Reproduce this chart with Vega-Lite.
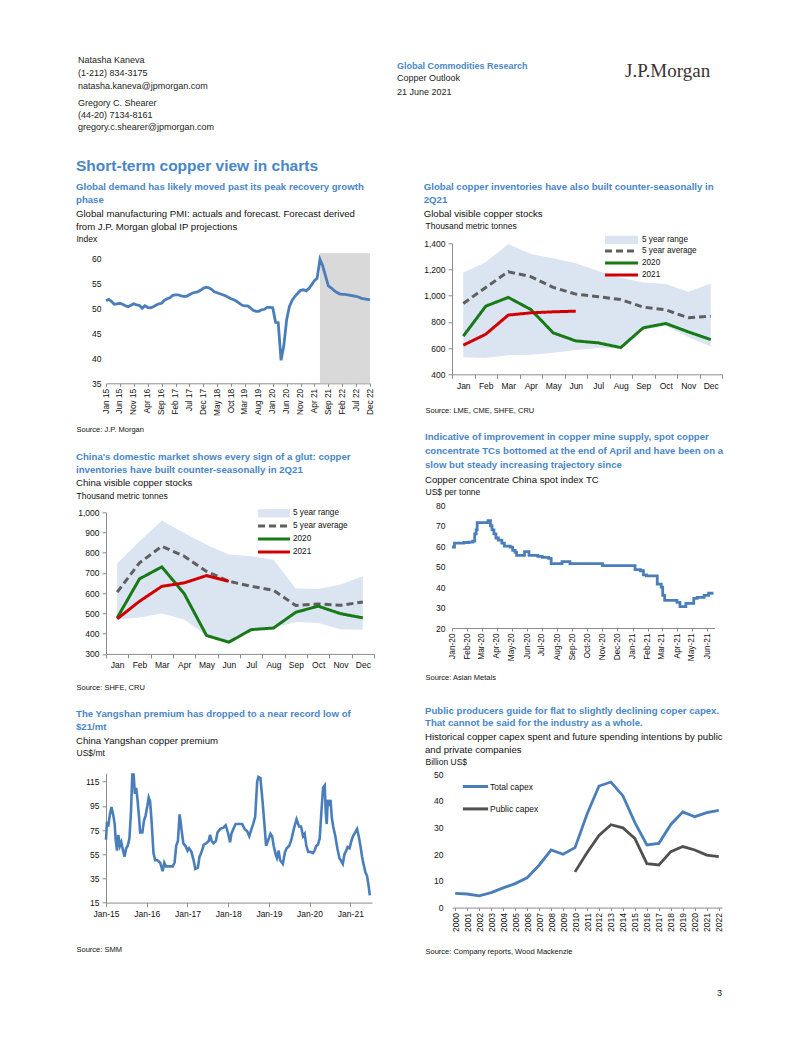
{
"$schema": "https://vega.github.io/schema/vega-lite/v6.json",
"padding": {"left": 76, "top": 55, "right": 0, "bottom": 0},
"resolve": {"scale": {"stroke": "independent", "strokeDash": "independent", "fill": "independent"}, "legend": {"stroke": "independent", "strokeDash": "independent", "fill": "independent"}},
"columns": 1,
"align": "none",
"spacing": 25.3,
"datasets": {
"pmi": [
{"d":"2015-01-01","v":51.5},{"d":"2015-02-01","v":51.8},{"d":"2015-03-01","v":51.4},{"d":"2015-04-01","v":50.8},{"d":"2015-05-01","v":50.9},{"d":"2015-06-01","v":51.0},{"d":"2015-07-01","v":50.8},{"d":"2015-08-01","v":50.5},{"d":"2015-09-01","v":50.3},{"d":"2015-10-01","v":50.6},{"d":"2015-11-01","v":50.9},{"d":"2015-12-01","v":50.7},
{"d":"2016-01-01","v":50.6},{"d":"2016-02-01","v":50.0},{"d":"2016-03-01","v":50.5},{"d":"2016-04-01","v":50.2},{"d":"2016-05-01","v":50.1},{"d":"2016-06-01","v":50.3},{"d":"2016-07-01","v":50.6},{"d":"2016-08-01","v":50.9},{"d":"2016-09-01","v":51.0},{"d":"2016-10-01","v":51.6},{"d":"2016-11-01","v":51.9},{"d":"2016-12-01","v":52.1},
{"d":"2017-01-01","v":52.6},{"d":"2017-02-01","v":52.7},{"d":"2017-03-01","v":52.7},{"d":"2017-04-01","v":52.5},{"d":"2017-05-01","v":52.4},{"d":"2017-06-01","v":52.4},{"d":"2017-07-01","v":52.7},{"d":"2017-08-01","v":53.0},{"d":"2017-09-01","v":53.2},{"d":"2017-10-01","v":53.3},{"d":"2017-11-01","v":53.6},{"d":"2017-12-01","v":54.0},
{"d":"2018-01-01","v":54.2},{"d":"2018-02-01","v":54.1},{"d":"2018-03-01","v":53.8},{"d":"2018-04-01","v":53.3},{"d":"2018-05-01","v":53.1},{"d":"2018-06-01","v":52.9},{"d":"2018-07-01","v":52.7},{"d":"2018-08-01","v":52.5},{"d":"2018-09-01","v":52.2},{"d":"2018-10-01","v":51.9},{"d":"2018-11-01","v":51.7},{"d":"2018-12-01","v":51.4},
{"d":"2019-01-01","v":51.0},{"d":"2019-02-01","v":50.6},{"d":"2019-03-01","v":50.5},{"d":"2019-04-01","v":50.5},{"d":"2019-05-01","v":50.1},{"d":"2019-06-01","v":49.6},{"d":"2019-07-01","v":49.4},{"d":"2019-08-01","v":49.4},{"d":"2019-09-01","v":49.7},{"d":"2019-10-01","v":49.8},{"d":"2019-11-01","v":50.2},{"d":"2019-12-01","v":50.2},
{"d":"2020-01-01","v":50.1},{"d":"2020-02-01","v":47.2},{"d":"2020-03-01","v":47.1},{"d":"2020-04-01","v":39.6},{"d":"2020-05-01","v":42.5},{"d":"2020-06-01","v":47.7},{"d":"2020-07-01","v":50.3},{"d":"2020-08-01","v":51.6},{"d":"2020-09-01","v":52.4},{"d":"2020-10-01","v":53.0},{"d":"2020-11-01","v":53.6},{"d":"2020-12-01","v":53.7},
{"d":"2021-01-01","v":53.5},{"d":"2021-02-01","v":54.0},{"d":"2021-03-01","v":54.7},{"d":"2021-04-01","v":55.5},{"d":"2021-05-01","v":56.0},{"d":"2021-06-01","v":59.8},{"d":"2021-07-01","v":58.5},{"d":"2021-08-01","v":56.5},{"d":"2021-09-01","v":54.5},{"d":"2021-10-01","v":54.1},{"d":"2021-11-01","v":53.6},{"d":"2021-12-01","v":53.2},
{"d":"2022-01-01","v":52.9},{"d":"2022-02-01","v":52.8},{"d":"2022-03-01","v":52.8},{"d":"2022-04-01","v":52.7},{"d":"2022-05-01","v":52.6},{"d":"2022-06-01","v":52.5},{"d":"2022-07-01","v":52.4},{"d":"2022-08-01","v":52.2},{"d":"2022-09-01","v":52.0},{"d":"2022-10-01","v":51.9},{"d":"2022-11-01","v":51.8},{"d":"2022-12-01","v":51.7}
],
"pmiShade": [{"s":"2021-06-01","e":"2022-12-01","lo":35,"hi":61}],
"gRange": [
{"m":"Jan","s":"5 year range","lo":530,"hi":1175},{"m":"Feb","s":"5 year range","lo":525,"hi":1255},{"m":"Mar","s":"5 year range","lo":545,"hi":1395},{"m":"Apr","s":"5 year range","lo":550,"hi":1318},{"m":"May","s":"5 year range","lo":565,"hi":1285},{"m":"Jun","s":"5 year range","lo":585,"hi":1247},{"m":"Jul","s":"5 year range","lo":600,"hi":1188},{"m":"Aug","s":"5 year range","lo":600,"hi":1137},{"m":"Sep","s":"5 year range","lo":740,"hi":1100},{"m":"Oct","s":"5 year range","lo":770,"hi":1090},{"m":"Nov","s":"5 year range","lo":685,"hi":1030},{"m":"Dec","s":"5 year range","lo":612,"hi":1094}
],
"gLines": [
{"m":"Jan","s":"5 year average","v":940},{"m":"Feb","s":"5 year average","v":1063},{"m":"Mar","s":"5 year average","v":1183},{"m":"Apr","s":"5 year average","v":1145},{"m":"May","s":"5 year average","v":1063},{"m":"Jun","s":"5 year average","v":1012},{"m":"Jul","s":"5 year average","v":992},{"m":"Aug","s":"5 year average","v":971},{"m":"Sep","s":"5 year average","v":913},{"m":"Oct","s":"5 year average","v":892},{"m":"Nov","s":"5 year average","v":831},{"m":"Dec","s":"5 year average","v":844},
{"m":"Jan","s":"2020","v":691},{"m":"Feb","s":"2020","v":920},{"m":"Mar","s":"2020","v":987},{"m":"Apr","s":"2020","v":895},{"m":"May","s":"2020","v":716},{"m":"Jun","s":"2020","v":655},{"m":"Jul","s":"2020","v":640},{"m":"Aug","s":"2020","v":604},{"m":"Sep","s":"2020","v":755},{"m":"Oct","s":"2020","v":788},{"m":"Nov","s":"2020","v":724},{"m":"Dec","s":"2020","v":665},
{"m":"Jan","s":"2021","v":622},{"m":"Feb","s":"2021","v":706},{"m":"Mar","s":"2021","v":852},{"m":"Apr","s":"2021","v":869},{"m":"May","s":"2021","v":877},{"m":"Jun","s":"2021","v":882}
],
"cRange": [
{"m":"Jan","s":"5 year range","lo":470,"hi":747},{"m":"Feb","s":"5 year range","lo":480,"hi":857},{"m":"Mar","s":"5 year range","lo":500,"hi":960},{"m":"Apr","s":"5 year range","lo":470,"hi":898},{"m":"May","s":"5 year range","lo":390,"hi":840},{"m":"Jun","s":"5 year range","lo":358,"hi":791},{"m":"Jul","s":"5 year range","lo":420,"hi":783},{"m":"Aug","s":"5 year range","lo":428,"hi":766},{"m":"Sep","s":"5 year range","lo":458,"hi":623},{"m":"Oct","s":"5 year range","lo":453,"hi":621},{"m":"Nov","s":"5 year range","lo":422,"hi":643},{"m":"Dec","s":"5 year range","lo":420,"hi":684}
],
"cLines": [
{"m":"Jan","s":"5 year average","v":605},{"m":"Feb","s":"5 year average","v":750},{"m":"Mar","s":"5 year average","v":832},{"m":"Apr","s":"5 year average","v":783},{"m":"May","s":"5 year average","v":708},{"m":"Jun","s":"5 year average","v":659},{"m":"Jul","s":"5 year average","v":634},{"m":"Aug","s":"5 year average","v":615},{"m":"Sep","s":"5 year average","v":539},{"m":"Oct","s":"5 year average","v":547},{"m":"Nov","s":"5 year average","v":540},{"m":"Dec","s":"5 year average","v":557},
{"m":"Jan","s":"2020","v":478},{"m":"Feb","s":"2020","v":671},{"m":"Mar","s":"2020","v":730},{"m":"Apr","s":"2020","v":598},{"m":"May","s":"2020","v":391},{"m":"Jun","s":"2020","v":358},{"m":"Jul","s":"2020","v":420},{"m":"Aug","s":"2020","v":428},{"m":"Sep","s":"2020","v":506},{"m":"Oct","s":"2020","v":536},{"m":"Nov","s":"2020","v":499},{"m":"Dec","s":"2020","v":478},
{"m":"Jan","s":"2021","v":473},{"m":"Feb","s":"2021","v":560},{"m":"Mar","s":"2021","v":634},{"m":"Apr","s":"2021","v":651},{"m":"May","s":"2021","v":687},{"m":"Jun","s":"2021","v":659}
],
"tc": [
{"d":"2020-01-01","v":59.5},{"d":"2020-01-06","v":61.5},{"d":"2020-01-25","v":61.8},{"d":"2020-02-04","v":62.0},{"d":"2020-02-12","v":62.5},{"d":"2020-02-16","v":66.0},{"d":"2020-02-19","v":68.0},{"d":"2020-02-21","v":71.5},{"d":"2020-03-14","v":72.5},{"d":"2020-03-19","v":70.0},{"d":"2020-03-22","v":68.0},{"d":"2020-03-26","v":66.0},{"d":"2020-03-30","v":64.0},{"d":"2020-04-04","v":63.0},{"d":"2020-04-11","v":61.5},{"d":"2020-04-16","v":60.0},{"d":"2020-04-28","v":59.5},{"d":"2020-05-03","v":58.0},{"d":"2020-05-08","v":57.0},{"d":"2020-05-11","v":55.5},{"d":"2020-05-27","v":57.3},{"d":"2020-06-05","v":55.5},{"d":"2020-06-23","v":55.0},{"d":"2020-07-02","v":54.5},{"d":"2020-07-15","v":54.0},{"d":"2020-07-20","v":51.5},{"d":"2020-08-11","v":52.5},{"d":"2020-08-27","v":51.5},{"d":"2020-11-01","v":50.5},{"d":"2021-01-06","v":48.5},{"d":"2021-01-17","v":48.0},{"d":"2021-01-23","v":46.0},{"d":"2021-01-29","v":45.5},{"d":"2021-02-20","v":41.5},{"d":"2021-02-28","v":40.0},{"d":"2021-03-03","v":36.0},{"d":"2021-03-07","v":33.5},{"d":"2021-04-01","v":32.5},{"d":"2021-04-07","v":30.5},{"d":"2021-04-19","v":32.0},{"d":"2021-05-05","v":34.5},{"d":"2021-05-12","v":35.0},{"d":"2021-05-26","v":36.0},{"d":"2021-06-04","v":37.0},{"d":"2021-06-14","v":37.0}
],
"ys": [
{"d":"2015-01-01","v":67},{"d":"2015-01-10","v":82},{"d":"2015-01-21","v":78},{"d":"2015-02-05","v":88},{"d":"2015-02-19","v":94},{"d":"2015-03-06","v":88},{"d":"2015-03-20","v":80},{"d":"2015-03-29","v":67},{"d":"2015-04-10","v":58},{"d":"2015-04-21","v":71},{"d":"2015-05-06","v":62},{"d":"2015-05-18","v":65},{"d":"2015-06-01","v":59},{"d":"2015-06-16","v":53},{"d":"2015-07-01","v":60},{"d":"2015-07-15","v":62},{"d":"2015-07-30","v":68},{"d":"2015-08-13","v":90},{"d":"2015-08-25","v":121},{"d":"2015-09-06","v":121},{"d":"2015-09-17","v":105},{"d":"2015-09-29","v":110},{"d":"2015-10-11","v":100},{"d":"2015-10-25","v":85},{"d":"2015-11-03","v":73},{"d":"2015-11-23","v":73},{"d":"2015-12-08","v":83},{"d":"2015-12-22","v":87},
{"d":"2016-01-07","v":95},{"d":"2016-01-19","v":102},{"d":"2016-01-31","v":99},{"d":"2016-02-12","v":85},{"d":"2016-03-02","v":56},{"d":"2016-03-17","v":50},{"d":"2016-04-07","v":50},{"d":"2016-05-01","v":48},{"d":"2016-05-23","v":41},{"d":"2016-06-07","v":48},{"d":"2016-06-22","v":45},{"d":"2016-07-23","v":45},{"d":"2016-08-22","v":45},{"d":"2016-09-07","v":48},{"d":"2016-09-22","v":62},{"d":"2016-10-07","v":66},{"d":"2016-10-22","v":88},{"d":"2016-10-31","v":82},{"d":"2016-11-13","v":72},{"d":"2016-11-25","v":64},{"d":"2016-12-13","v":62},
{"d":"2017-01-01","v":58},{"d":"2017-01-15","v":60},{"d":"2017-02-05","v":57},{"d":"2017-02-25","v":50},{"d":"2017-03-12","v":43},{"d":"2017-04-04","v":44},{"d":"2017-04-19","v":53},{"d":"2017-05-04","v":56},{"d":"2017-05-27","v":63},{"d":"2017-06-17","v":64},{"d":"2017-07-10","v":66},{"d":"2017-07-22","v":71},{"d":"2017-08-06","v":66},{"d":"2017-08-23","v":64},{"d":"2017-09-13","v":66},{"d":"2017-09-27","v":73},{"d":"2017-10-21","v":76},{"d":"2017-11-19","v":77},{"d":"2017-12-10","v":79},
{"d":"2018-01-01","v":72},{"d":"2018-01-18","v":65},{"d":"2018-01-30","v":72},{"d":"2018-02-17","v":76},{"d":"2018-03-09","v":80},{"d":"2018-04-08","v":80},{"d":"2018-05-07","v":80},{"d":"2018-05-28","v":76},{"d":"2018-06-21","v":74},{"d":"2018-07-09","v":70},{"d":"2018-07-26","v":75},{"d":"2018-08-13","v":80},{"d":"2018-08-31","v":86},{"d":"2018-09-18","v":115},{"d":"2018-09-29","v":119},{"d":"2018-10-17","v":118},{"d":"2018-11-04","v":100},{"d":"2018-11-22","v":80},{"d":"2018-12-07","v":62},
{"d":"2019-01-01","v":68},{"d":"2019-01-15","v":72},{"d":"2019-01-30","v":70},{"d":"2019-02-13","v":62},{"d":"2019-02-28","v":56},{"d":"2019-03-14","v":52},{"d":"2019-03-29","v":58},{"d":"2019-04-12","v":50},{"d":"2019-05-06","v":47},{"d":"2019-05-26","v":57},{"d":"2019-06-10","v":60},{"d":"2019-07-03","v":62},{"d":"2019-07-24","v":68},{"d":"2019-08-13","v":76},{"d":"2019-09-06","v":84},{"d":"2019-09-29","v":78},{"d":"2019-10-17","v":78},{"d":"2019-11-03","v":70},{"d":"2019-11-18","v":72},{"d":"2019-12-03","v":62},{"d":"2019-12-20","v":57},
{"d":"2020-01-07","v":57},{"d":"2020-01-31","v":56},{"d":"2020-02-15","v":58},{"d":"2020-03-01","v":62},{"d":"2020-03-16","v":63},{"d":"2020-04-01","v":68},{"d":"2020-04-16","v":90},{"d":"2020-05-01","v":110},{"d":"2020-05-16","v":112},{"d":"2020-05-25","v":90},{"d":"2020-06-03","v":80},{"d":"2020-06-12","v":100},{"d":"2020-06-25","v":95},{"d":"2020-07-07","v":100},{"d":"2020-07-19","v":85},{"d":"2020-07-31","v":78},{"d":"2020-08-19","v":70},{"d":"2020-09-06","v":60},{"d":"2020-09-24","v":52},{"d":"2020-10-07","v":50},{"d":"2020-10-25","v":47},{"d":"2020-11-09","v":55},{"d":"2020-11-25","v":58},{"d":"2020-12-07","v":61},{"d":"2020-12-25","v":60},
{"d":"2021-01-10","v":66},{"d":"2021-01-25","v":70},{"d":"2021-02-12","v":73},{"d":"2021-03-02","v":76},{"d":"2021-03-17","v":70},{"d":"2021-04-01","v":62},{"d":"2021-04-16","v":53},{"d":"2021-05-01","v":46},{"d":"2021-05-16","v":40},{"d":"2021-05-31","v":37},{"d":"2021-06-15","v":28},{"d":"2021-06-24","v":21}
],
"capex": [
{"y":"2000","s":"Total capex","v":5.3},{"y":"2001","s":"Total capex","v":5.1},{"y":"2002","s":"Total capex","v":4.4},{"y":"2003","s":"Total capex","v":5.6},{"y":"2004","s":"Total capex","v":7.4},{"y":"2005","s":"Total capex","v":9.0},{"y":"2006","s":"Total capex","v":11.2},{"y":"2007","s":"Total capex","v":15.9},{"y":"2008","s":"Total capex","v":21.6},{"y":"2009","s":"Total capex","v":20.0},{"y":"2010","s":"Total capex","v":22.5},{"y":"2011","s":"Total capex","v":35.0},{"y":"2012","s":"Total capex","v":45.6},{"y":"2013","s":"Total capex","v":47.1},{"y":"2014","s":"Total capex","v":41.9},{"y":"2015","s":"Total capex","v":31.9},{"y":"2016","s":"Total capex","v":23.5},{"y":"2017","s":"Total capex","v":24.1},{"y":"2018","s":"Total capex","v":31.2},{"y":"2019","s":"Total capex","v":35.9},{"y":"2020","s":"Total capex","v":34.1},{"y":"2021","s":"Total capex","v":35.6},{"y":"2022","s":"Total capex","v":36.5},
{"y":"2010","s":"Public capex","v":13.4},{"y":"2011","s":"Public capex","v":20.6},{"y":"2012","s":"Public capex","v":27.1},{"y":"2013","s":"Public capex","v":31.1},{"y":"2014","s":"Public capex","v":29.9},{"y":"2015","s":"Public capex","v":25.9},{"y":"2016","s":"Public capex","v":16.5},{"y":"2017","s":"Public capex","v":16.0},{"y":"2018","s":"Public capex","v":21.0},{"y":"2019","s":"Public capex","v":22.9},{"y":"2020","s":"Public capex","v":21.6},{"y":"2021","s":"Public capex","v":19.7},{"y":"2022","s":"Public capex","v":19.1}
]
},
"concat": [
{
"hconcat": [
{"width": 291, "height": 1, "data": {"values": [{}]}, "mark": {"type": "point", "size": 0, "opacity": 0, "filled": true, "strokeWidth": 0},
 "title": {"text": ["Natasha Kaneva", "(1-212) 834-3175", "natasha.kaneva@jpmorgan.com"], "subtitle": ["Gregory C. Shearer", "(44-20) 7134-8161", "gregory.c.shearer@jpmorgan.com"], "orient": "bottom", "anchor": "start", "frame": "group", "font": "Liberation Sans", "fontSize": 9, "fontWeight": "normal", "color": "#222222", "lineHeight": 12.8, "subtitleFont": "Liberation Sans", "subtitleFontSize": 9, "subtitleColor": "#222222", "subtitleLineHeight": 12.2, "subtitlePadding": 8.5, "offset": 0, "dx": -28, "baseline": "top"}},
{"width": 228, "height": 7, "data": {"values": [{}]}, "mark": {"type": "point", "size": 0, "opacity": 0, "filled": true, "strokeWidth": 0},
 "title": {"text": "Global Commodities Research", "subtitle": ["Copper Outlook", "21 June 2021"], "orient": "bottom", "anchor": "start", "frame": "group", "font": "Liberation Sans", "fontSize": 9, "fontWeight": "bold", "color": "#4a86c6", "subtitleFont": "Liberation Sans", "subtitleFontSize": 9, "subtitleColor": "#222222", "subtitleLineHeight": 14, "subtitlePadding": 2.5, "offset": 0, "dx": 0, "baseline": "top"}},
{"width": 100, "height": 7, "data": {"values": [{}]}, "mark": {"type": "point", "size": 0, "opacity": 0, "filled": true, "strokeWidth": 0},
 "title": {"text": "J.P.Morgan", "orient": "bottom", "anchor": "start", "frame": "group", "font": "Liberation Serif", "fontSize": 19, "fontWeight": "normal", "color": "#3a3232", "offset": 0, "dx": 0, "baseline": "top"}}
],
"spacing": 0
},
{
"title": {"text": "Short-term copper view in charts", "font": "Liberation Sans", "fontSize": 15.5, "fontWeight": "bold", "color": "#4a86c6", "anchor": "start", "frame": "bounds", "offset": -13.45, "dx": 0, "baseline": "top"},
"resolve": {"scale": {"stroke": "independent", "strokeDash": "independent", "fill": "independent"}, "legend": {"stroke": "independent", "strokeDash": "independent", "fill": "independent"}},
"columns": 2,
"align": "none",
"spacing": 47,
"concat": [
{
"resolve": {"scale": {"stroke": "independent", "strokeDash": "independent", "fill": "independent"}, "legend": {"stroke": "independent", "strokeDash": "independent", "fill": "independent"}},
"columns": 1,
"align": "none",
"spacing": 0,
"concat": [
{"width": 1, "height": 20, "data": {"values": [{}]}, "mark": {"type": "point", "size": 0, "opacity": 0, "filled": true, "strokeWidth": 0}},
{
"width": 264, "height": 130,
"title": {"text": ["Global demand has likely moved past its peak recovery growth", "phase"], "subtitle": ["Global manufacturing PMI: actuals and forecast. Forecast derived", "from J.P. Morgan global IP projections"]},
"resolve": {"axis": {"x": "independent", "y": "independent"}},
"layer": [
{"data": {"name": "pmiShade"}, "mark": {"type": "rect", "color": "#d9d9d9"},
 "encoding": {"x": {"field": "s", "type": "temporal", "axis": null}, "x2": {"field": "e"}, "y": {"field": "lo", "type": "quantitative", "axis": null}, "y2": {"field": "hi"}}},
{"data": {"name": "pmi"}, "mark": {"type": "line", "color": "#4a7ebb", "strokeWidth": 2.8},
 "encoding": {
  "x": {"field": "d", "type": "temporal", "scale": {"domain": [{"year": 2015, "month": 1, "date": 1}, {"year": 2022, "month": 12, "date": 1}]},
   "axis": {"values": [{"year":2015,"month":1,"date":1},{"year":2015,"month":6,"date":1},{"year":2015,"month":11,"date":1},{"year":2016,"month":4,"date":1},{"year":2016,"month":9,"date":1},{"year":2017,"month":2,"date":1},{"year":2017,"month":7,"date":1},{"year":2017,"month":12,"date":1},{"year":2018,"month":5,"date":1},{"year":2018,"month":10,"date":1},{"year":2019,"month":3,"date":1},{"year":2019,"month":8,"date":1},{"year":2020,"month":1,"date":1},{"year":2020,"month":6,"date":1},{"year":2020,"month":11,"date":1},{"year":2021,"month":4,"date":1},{"year":2021,"month":9,"date":1},{"year":2022,"month":2,"date":1},{"year":2022,"month":7,"date":1},{"year":2022,"month":12,"date":1}],
    "format": "%b %y", "labelAngle": -90, "tickSize": 3, "labelPadding": 2, "labelFontSize": 8.3, "labelOverlap": false, "labelFlush": false,
    "title": "Source: J.P. Morgan", "titleX": -30, "titleY": 48.4, "titleAlign": "left", "titleBaseline": "alphabetic", "titleFontSize": 7.5}},
  "y": {"field": "v", "type": "quantitative", "scale": {"domain": [35, 61], "nice": false, "zero": false},
   "axis": {"values": [35, 40, 45, 50, 55, 60], "domain": false, "ticks": false, "labelPadding": 5, "labelOverlap": false,
    "title": "Index", "titleX": -30, "titleY": -11.9, "titleAngle": 0, "titleAlign": "left", "titleBaseline": "alphabetic", "titleFontSize": 8.5}}
 }}
]
},
{"width": 1, "height": 17.4, "data": {"values": [{}]}, "mark": {"type": "point", "size": 0, "opacity": 0, "filled": true, "strokeWidth": 0}},
{
"width": 268, "height": 141.6,
"title": {"text": ["China's domestic market shows every sign of a glut: copper", "inventories have built counter-seasonally in 2Q21"], "subtitle": "China visible copper stocks"},
"resolve": {"axis": {"x": "independent", "y": "independent"}},
"layer": [
{"data": {"name": "cRange"}, "mark": {"type": "area", "opacity": 1},
 "encoding": {
  "x": {"field": "m", "type": "nominal", "scale": {"type": "band", "domain": ["Jan","Feb","Mar","Apr","May","Jun","Jul","Aug","Sep","Oct","Nov","Dec"], "paddingInner": 0, "paddingOuter": 0},
   "axis": {"tickBand": "extent", "labelAngle": 0, "tickSize": 4, "labelPadding": 3, "labelOverlap": false,
    "title": "Source: SHFE, CRU", "titleX": -30, "titleY": 35.7, "titleAlign": "left", "titleBaseline": "alphabetic", "titleFontSize": 7.5}},
  "y": {"field": "lo", "type": "quantitative", "scale": {"domain": [300, 1000], "nice": false, "zero": false},
   "axis": {"values": [300,400,500,600,700,800,900,1000], "format": ",.0f", "tickSize": 4, "labelPadding": 3, "labelOverlap": false,
    "title": "Thousand metric tonnes", "titleX": -30, "titleY": -14.3, "titleAngle": 0, "titleAlign": "left", "titleBaseline": "alphabetic", "titleFontSize": 8.5}},
  "y2": {"field": "hi"},
  "fill": {"field": "s", "type": "nominal", "scale": {"domain": ["5 year range"], "range": ["#dbe5f1"]},
   "legend": {"title": null, "orient": "none", "legendX": 162.5, "legendY": -4.5, "symbolType": "M-2.9,-0.75H2.9V0.75H-2.9Z", "symbolSize": 121, "labelOffset": 13.5, "padding": 0, "labelFontSize": 8.2, "symbolStrokeWidth": 0}}
 }},
{"data": {"name": "cLines"}, "mark": {"type": "line", "strokeWidth": 3},
 "encoding": {
  "x": {"field": "m", "type": "nominal", "axis": null},
  "y": {"field": "v", "type": "quantitative", "axis": null},
  "stroke": {"field": "s", "type": "nominal", "scale": {"domain": ["5 year average","2020","2021"], "range": ["#5f5f5f","#177a17","#d00000"]},
   "legend": {"title": null, "orient": "none", "legendX": 161.5, "legendY": 7.1, "symbolType": "M-3.2,0H3.2", "symbolSize": 100, "labelOffset": 12.5, "rowPadding": -0.6, "padding": 0, "labelFontSize": 8.2, "symbolStrokeWidth": 3}},
  "strokeDash": {"field": "s", "type": "nominal", "scale": {"domain": ["5 year average","2020","2021"], "range": [[7,4],[1,0],[1,0]]},
   "legend": {"title": null, "orient": "none", "legendX": 161.5, "legendY": 7.1, "symbolType": "M-3.2,0H3.2", "symbolSize": 100, "labelOffset": 12.5, "rowPadding": -0.6, "padding": 0, "labelFontSize": 8.2, "symbolStrokeWidth": 3}}
 }}
]
},
{"width": 1, "height": 16.3, "data": {"values": [{}]}, "mark": {"type": "point", "size": 0, "opacity": 0, "filled": true, "strokeWidth": 0}},
{
"width": 266, "height": 129.3,
"title": {"text": ["The Yangshan premium has dropped to a near record low of", "$21/mt"], "subtitle": "China Yangshan copper premium"},
"data": {"name": "ys"},
"mark": {"type": "line", "color": "#4a7ebb", "strokeWidth": 2.6},
"encoding": {
 "x": {"field": "d", "type": "temporal", "scale": {"domain": [{"year": 2015, "month": 1, "date": 1}, {"year": 2021, "month": 7, "date": 14}]},
  "axis": {"tickCount": {"interval": "year", "step": 1}, "format": "%b-%y", "labelAngle": 0, "tickSize": 4, "labelPadding": 3,
   "title": "Source: SMM", "titleX": -30, "titleY": 49, "titleAlign": "left", "titleBaseline": "alphabetic", "titleFontSize": 7.5}},
 "y": {"field": "v", "type": "quantitative", "scale": {"domain": [15, 122], "nice": false, "zero": false},
  "axis": {"values": [15, 35, 55, 75, 95, 115], "tickSize": 4, "labelPadding": 3,
   "title": "US$/mt", "titleX": -30, "titleY": -17.6, "titleAngle": 0, "titleAlign": "left", "titleBaseline": "alphabetic", "titleFontSize": 8.5}}
}
}
]
},
{
"resolve": {"scale": {"stroke": "independent", "strokeDash": "independent", "fill": "independent"}, "legend": {"stroke": "independent", "strokeDash": "independent", "fill": "independent"}},
"columns": 1,
"align": "none",
"spacing": 0,
"concat": [
{"width": 1, "height": 20, "data": {"values": [{}]}, "mark": {"type": "point", "size": 0, "opacity": 0, "filled": true, "strokeWidth": 0}},
{
"width": 270, "height": 131,
"title": {"text": ["Global copper inventories have also built counter-seasonally in", "2Q21"], "subtitle": "Global visible copper stocks"},
"resolve": {"axis": {"x": "independent", "y": "independent"}},
"layer": [
{"data": {"name": "gRange"}, "mark": {"type": "area", "opacity": 1},
 "encoding": {
  "x": {"field": "m", "type": "nominal", "scale": {"type": "band", "domain": ["Jan","Feb","Mar","Apr","May","Jun","Jul","Aug","Sep","Oct","Nov","Dec"], "paddingInner": 0, "paddingOuter": 0},
   "axis": {"tickBand": "extent", "labelAngle": 0, "tickSize": 4, "labelPadding": 3, "labelOverlap": false,
    "title": "Source: LME, CME, SHFE, CRU", "titleX": -27, "titleY": 38.3, "titleAlign": "left", "titleBaseline": "alphabetic", "titleFontSize": 7.5}},
  "y": {"field": "lo", "type": "quantitative", "scale": {"domain": [400, 1400], "nice": false, "zero": false},
   "axis": {"values": [400,600,800,1000,1200,1400], "format": ",.0f", "tickSize": 4, "labelPadding": 3, "labelOverlap": false,
    "title": "Thousand metric tonnes", "titleX": -27, "titleY": -14.9, "titleAngle": 0, "titleAlign": "left", "titleBaseline": "alphabetic", "titleFontSize": 8.5}},
  "y2": {"field": "hi"},
  "fill": {"field": "s", "type": "nominal", "scale": {"domain": ["5 year range"], "range": ["#dbe5f1"]},
   "legend": {"title": null, "orient": "none", "legendX": 164, "legendY": -9, "symbolType": "M-3,-0.75H3V0.75H-3Z", "symbolSize": 121, "labelOffset": 15, "padding": 0, "labelFontSize": 8.2, "symbolStrokeWidth": 0}}
 }},
{"data": {"name": "gLines"}, "mark": {"type": "line", "strokeWidth": 3},
 "encoding": {
  "x": {"field": "m", "type": "nominal", "axis": null},
  "y": {"field": "v", "type": "quantitative", "axis": null},
  "stroke": {"field": "s", "type": "nominal", "scale": {"domain": ["5 year average","2020","2021"], "range": ["#5f5f5f","#177a17","#d00000"]},
   "legend": {"title": null, "orient": "none", "legendX": 164, "legendY": 2.3, "symbolType": "M-4.125,0H4.125", "symbolSize": 64, "labelOffset": 15, "rowPadding": -3, "padding": 0, "labelFontSize": 8.2, "symbolStrokeWidth": 3}},
  "strokeDash": {"field": "s", "type": "nominal", "scale": {"domain": ["5 year average","2020","2021"], "range": [[7,4],[1,0],[1,0]]},
   "legend": {"title": null, "orient": "none", "legendX": 164, "legendY": 2.3, "symbolType": "M-4.125,0H4.125", "symbolSize": 64, "labelOffset": 15, "rowPadding": -3, "padding": 0, "labelFontSize": 8.2, "symbolStrokeWidth": 3}}
 }}
]
},
{"width": 1, "height": 17.5, "data": {"values": [{}]}, "mark": {"type": "point", "size": 0, "opacity": 0, "filled": true, "strokeWidth": 0}},
{
"width": 262.5, "height": 122.7,
"title": {"text": ["Indicative of improvement in copper mine supply, spot copper", "concentrate TCs bottomed at the end of April and have been on a", "slow but steady increasing trajectory since"], "subtitle": "Copper concentrate China spot index TC", "lineHeight": 13.8, "subtitlePadding": 5.25},
"data": {"name": "tc"},
"mark": {"type": "line", "color": "#4a7ebb", "strokeWidth": 2.8, "interpolate": "step-after"},
"encoding": {
 "x": {"field": "d", "type": "temporal", "scale": {"domain": [{"year": 2020, "month": 1, "date": 1}, {"year": 2021, "month": 6, "date": 16}]},
  "axis": {"tickCount": {"interval": "month", "step": 1}, "format": "%b-%y", "labelAngle": -90, "tickSize": 3, "labelPadding": 2, "labelFontSize": 8.3,
   "title": "Source: Asian Metals", "titleX": -27, "titleY": 51.6, "titleAlign": "left", "titleBaseline": "alphabetic", "titleFontSize": 7.5}},
 "y": {"field": "v", "type": "quantitative", "scale": {"domain": [20, 80], "nice": false, "zero": false},
  "axis": {"values": [20, 30, 40, 50, 60, 70, 80], "domain": false, "ticks": false, "labelPadding": 7,
   "title": "US$ per tonne", "titleX": -27, "titleY": -10.9, "titleAngle": 0, "titleAlign": "left", "titleBaseline": "alphabetic", "titleFontSize": 8.5}}
}
},
{"width": 1, "height": 23.4, "data": {"values": [{}]}, "mark": {"type": "point", "size": 0, "opacity": 0, "filled": true, "strokeWidth": 0}},
{
"width": 270, "height": 133.3,
"title": {"text": ["Public producers guide for flat to slightly declining coper capex.", "That cannot be said for the industry as a whole."], "subtitle": ["Historical copper capex spent and future spending intentions by public", "and private companies"], "lineHeight": 12},
"data": {"name": "capex"},
"mark": {"type": "line", "strokeWidth": 2.8},
"encoding": {
 "x": {"field": "y", "type": "ordinal", "scale": {"type": "point", "padding": 0.27},
  "axis": {"labelAngle": -90, "tickSize": 3, "labelPadding": 2,
   "title": "Source: Company reports, Wood Mackenzie", "titleX": -27, "titleY": 46.2, "titleAlign": "left", "titleBaseline": "alphabetic", "titleFontSize": 7.5}},
 "y": {"field": "v", "type": "quantitative", "scale": {"domain": [0, 50], "nice": false},
  "axis": {"values": [0, 10, 20, 30, 40, 50], "domain": false, "ticks": false, "labelPadding": 9,
   "title": "Billion US$", "titleX": -27, "titleY": -9.6, "titleAngle": 0, "titleAlign": "left", "titleBaseline": "alphabetic", "titleFontSize": 8.5}},
 "stroke": {"field": "s", "type": "nominal", "scale": {"domain": ["Total capex", "Public capex"], "range": ["#4a7ebb", "#505050"]},
  "legend": {"title": null, "orient": "none", "legendX": 16.5, "legendY": 5.2, "symbolType": "M-2.3,0H2.3", "symbolSize": 121, "labelOffset": 7.5, "rowPadding": 9.4, "padding": 0, "labelFontSize": 8.5, "symbolStrokeWidth": 3}}
}
}
]
}
]
},
{"width": 616, "height": 8.4, "data": {"values": [{}]}, "mark": {"type": "point", "size": 0, "opacity": 0, "filled": true, "strokeWidth": 0},
 "title": {"text": "3", "orient": "bottom", "anchor": "end", "frame": "group", "font": "Liberation Sans", "fontSize": 9, "fontWeight": "normal", "color": "#222222", "offset": 0, "dx": 0, "baseline": "top"}}
],
"config": {
 "view": {"stroke": null},
 "font": "Liberation Sans",
 "axis": {"grid": false, "labelOverlap": false, "labelFlush": false, "labelFont": "Liberation Sans", "labelFontSize": 8.5, "labelColor": "#111111", "domainColor": "#8c8c8c", "tickColor": "#8c8c8c", "titleFont": "Liberation Sans", "titleFontWeight": "normal", "titleColor": "#111111"},
 "title": {"font": "Liberation Sans", "fontSize": 9.65, "fontWeight": "bold", "color": "#4a86c6", "anchor": "start", "frame": "bounds", "baseline": "top", "lineHeight": 13, "subtitleFont": "Liberation Sans", "subtitleFontSize": 9.6, "subtitleColor": "#111111", "subtitleLineHeight": 13, "subtitlePadding": 4.25, "offset": 3},
 "legend": {"labelFont": "Liberation Sans", "labelFontSize": 8.2, "labelColor": "#111111"}
}
}
